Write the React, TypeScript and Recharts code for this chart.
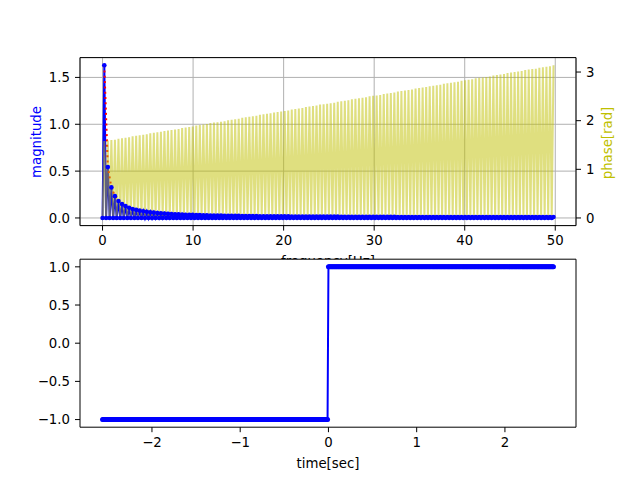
import {
  ComposedChart,
  Line,
  XAxis,
  YAxis,
  CartesianGrid,
} from 'recharts'

// spectrum: 256 bins, 100/512 Hz apart
const binWidthHz = 0.1953125
const freqTicks = [0, 10, 20, 30, 40, 50]
const magTicks = [0, 0.5, 1, 1.5]
const phaseTicks = [0, 1, 2, 3]

const magnitude = [
  0, 1.630, 0, 0.543, 0, 0.326, 0, 0.233, 0, 0.181, 0, 0.148, 0, 0.126, 0, 0.109,
  0, 0.096, 0, 0.086, 0, 0.078, 0, 0.071, 0, 0.065, 0, 0.061, 0, 0.057, 0, 0.053,
  0, 0.050, 0, 0.047, 0, 0.044, 0, 0.042, 0, 0.040, 0, 0.038, 0, 0.037, 0, 0.035,
  0, 0.034, 0, 0.033, 0, 0.031, 0, 0.030, 0, 0.029, 0, 0.028, 0, 0.027, 0, 0.027,
  0, 0.026, 0, 0.025, 0, 0.024, 0, 0.024, 0, 0.023, 0, 0.023, 0, 0.022, 0, 0.021,
  0, 0.021, 0, 0.021, 0, 0.020, 0, 0.020, 0, 0.019, 0, 0.019, 0, 0.018, 0, 0.018,
  0, 0.018, 0, 0.017, 0, 0.017, 0, 0.017, 0, 0.017, 0, 0.016, 0, 0.016, 0, 0.016,
  0, 0.016, 0, 0.015, 0, 0.015, 0, 0.015, 0, 0.015, 0, 0.015, 0, 0.014, 0, 0.014,
  0, 0.014, 0, 0.014, 0, 0.014, 0, 0.013, 0, 0.013, 0, 0.013, 0, 0.013, 0, 0.013,
  0, 0.013, 0, 0.013, 0, 0.012, 0, 0.012, 0, 0.012, 0, 0.012, 0, 0.012, 0, 0.012,
  0, 0.012, 0, 0.012, 0, 0.012, 0, 0.011, 0, 0.011, 0, 0.011, 0, 0.011, 0, 0.011,
  0, 0.011, 0, 0.011, 0, 0.011, 0, 0.011, 0, 0.011, 0, 0.011, 0, 0.011, 0, 0.011,
  0, 0.011, 0, 0.011, 0, 0.011, 0, 0.011, 0, 0.011, 0, 0.011, 0, 0.011, 0, 0.010,
  0, 0.010, 0, 0.010, 0, 0.010, 0, 0.010, 0, 0.010, 0, 0.010, 0, 0.010, 0, 0.010,
  0, 0.010, 0, 0.010, 0, 0.010, 0, 0.010, 0, 0.010, 0, 0.010, 0, 0.010, 0, 0.010,
  0, 0.010, 0, 0.010, 0, 0.010, 0, 0.010, 0, 0.010, 0, 0.010, 0, 0.010, 0, 0.010,
]

const phase = [
  0, 1.58, 0, 1.59, 0, 1.60, 0, 1.61, 0, 1.63, 0, 1.64, 0, 1.65, 0, 1.66,
  0, 1.68, 0, 1.69, 0, 1.70, 0, 1.71, 0, 1.72, 0, 1.74, 0, 1.75, 0, 1.76,
  0, 1.77, 0, 1.79, 0, 1.80, 0, 1.81, 0, 1.82, 0, 1.83, 0, 1.85, 0, 1.86,
  0, 1.87, 0, 1.88, 0, 1.90, 0, 1.91, 0, 1.92, 0, 1.93, 0, 1.95, 0, 1.96,
  0, 1.97, 0, 1.98, 0, 1.99, 0, 2.01, 0, 2.02, 0, 2.03, 0, 2.04, 0, 2.06,
  0, 2.07, 0, 2.08, 0, 2.09, 0, 2.10, 0, 2.12, 0, 2.13, 0, 2.14, 0, 2.15,
  0, 2.17, 0, 2.18, 0, 2.19, 0, 2.20, 0, 2.21, 0, 2.23, 0, 2.24, 0, 2.25,
  0, 2.26, 0, 2.28, 0, 2.29, 0, 2.30, 0, 2.31, 0, 2.33, 0, 2.34, 0, 2.35,
  0, 2.36, 0, 2.37, 0, 2.39, 0, 2.40, 0, 2.41, 0, 2.42, 0, 2.44, 0, 2.45,
  0, 2.46, 0, 2.47, 0, 2.48, 0, 2.50, 0, 2.51, 0, 2.52, 0, 2.53, 0, 2.55,
  0, 2.56, 0, 2.57, 0, 2.58, 0, 2.60, 0, 2.61, 0, 2.62, 0, 2.63, 0, 2.64,
  0, 2.66, 0, 2.67, 0, 2.68, 0, 2.69, 0, 2.71, 0, 2.72, 0, 2.73, 0, 2.74,
  0, 2.76, 0, 2.77, 0, 2.78, 0, 2.79, 0, 2.80, 0, 2.82, 0, 2.83, 0, 2.84,
  0, 2.85, 0, 2.87, 0, 2.88, 0, 2.89, 0, 2.90, 0, 2.91, 0, 2.93, 0, 2.94,
  0, 2.95, 0, 2.96, 0, 2.98, 0, 2.99, 0, 3.00, 0, 3.01, 0, 3.02, 0, 3.04,
  0, 3.05, 0, 3.06, 0, 3.07, 0, 3.09, 0, 3.10, 0, 3.11, 0, 3.12, 0, 3.14,
]

// time signal: 512 samples, 0.01 s apart, starting at -2.56 s
const timeStart = -2.56
const sampleStep = 0.01
const timeTicks = [-2, -1, 0, 1, 2]
const signalTicks = [-1, -0.5, 0, 0.5, 1]

const signal = [
  -1, -1, -1, -1, -1, -1, -1, -1, -1, -1, -1, -1, -1, -1, -1, -1, -1, -1, -1, -1, -1, -1, -1, -1, -1, -1, -1, -1, -1, -1, -1, -1,
  -1, -1, -1, -1, -1, -1, -1, -1, -1, -1, -1, -1, -1, -1, -1, -1, -1, -1, -1, -1, -1, -1, -1, -1, -1, -1, -1, -1, -1, -1, -1, -1,
  -1, -1, -1, -1, -1, -1, -1, -1, -1, -1, -1, -1, -1, -1, -1, -1, -1, -1, -1, -1, -1, -1, -1, -1, -1, -1, -1, -1, -1, -1, -1, -1,
  -1, -1, -1, -1, -1, -1, -1, -1, -1, -1, -1, -1, -1, -1, -1, -1, -1, -1, -1, -1, -1, -1, -1, -1, -1, -1, -1, -1, -1, -1, -1, -1,
  -1, -1, -1, -1, -1, -1, -1, -1, -1, -1, -1, -1, -1, -1, -1, -1, -1, -1, -1, -1, -1, -1, -1, -1, -1, -1, -1, -1, -1, -1, -1, -1,
  -1, -1, -1, -1, -1, -1, -1, -1, -1, -1, -1, -1, -1, -1, -1, -1, -1, -1, -1, -1, -1, -1, -1, -1, -1, -1, -1, -1, -1, -1, -1, -1,
  -1, -1, -1, -1, -1, -1, -1, -1, -1, -1, -1, -1, -1, -1, -1, -1, -1, -1, -1, -1, -1, -1, -1, -1, -1, -1, -1, -1, -1, -1, -1, -1,
  -1, -1, -1, -1, -1, -1, -1, -1, -1, -1, -1, -1, -1, -1, -1, -1, -1, -1, -1, -1, -1, -1, -1, -1, -1, -1, -1, -1, -1, -1, -1, -1,
  1, 1, 1, 1, 1, 1, 1, 1, 1, 1, 1, 1, 1, 1, 1, 1, 1, 1, 1, 1, 1, 1, 1, 1, 1, 1, 1, 1, 1, 1, 1, 1,
  1, 1, 1, 1, 1, 1, 1, 1, 1, 1, 1, 1, 1, 1, 1, 1, 1, 1, 1, 1, 1, 1, 1, 1, 1, 1, 1, 1, 1, 1, 1, 1,
  1, 1, 1, 1, 1, 1, 1, 1, 1, 1, 1, 1, 1, 1, 1, 1, 1, 1, 1, 1, 1, 1, 1, 1, 1, 1, 1, 1, 1, 1, 1, 1,
  1, 1, 1, 1, 1, 1, 1, 1, 1, 1, 1, 1, 1, 1, 1, 1, 1, 1, 1, 1, 1, 1, 1, 1, 1, 1, 1, 1, 1, 1, 1, 1,
  1, 1, 1, 1, 1, 1, 1, 1, 1, 1, 1, 1, 1, 1, 1, 1, 1, 1, 1, 1, 1, 1, 1, 1, 1, 1, 1, 1, 1, 1, 1, 1,
  1, 1, 1, 1, 1, 1, 1, 1, 1, 1, 1, 1, 1, 1, 1, 1, 1, 1, 1, 1, 1, 1, 1, 1, 1, 1, 1, 1, 1, 1, 1, 1,
  1, 1, 1, 1, 1, 1, 1, 1, 1, 1, 1, 1, 1, 1, 1, 1, 1, 1, 1, 1, 1, 1, 1, 1, 1, 1, 1, 1, 1, 1, 1, 1,
  1, 1, 1, 1, 1, 1, 1, 1, 1, 1, 1, 1, 1, 1, 1, 1, 1, 1, 1, 1, 1, 1, 1, 1, 1, 1, 1, 1, 1, 1, 1, 1,
]

const spectrumRows = magnitude.map((m, i) => ({
  f: i * binWidthHz,
  mag: m,
  env: m > 0 ? m : null,
  phase: phase[i],
}))

const signalRows = signal.map((v, i) => ({
  t: Number((timeStart + i * sampleStep).toFixed(2)),
  v,
}))

const FONT = '"DejaVu Sans", sans-serif'
const tickStyle = { fill: '#000', fontSize: 13.3, fontFamily: FONT }
const axisLineStyle = { stroke: '#000', strokeWidth: 1 }
const minus = (s: string) => s.replace('-', '\u2212')

// recharts passes its own x/y to label content, so the anchor uses other names
function AxisTitle({ tx, ty, text, color = '#000', vertical = false }: {
  tx: number
  ty: number
  text: string
  color?: string
  vertical?: boolean
}) {
  return (
    <text
      x={tx}
      y={ty}
      fill={color}
      fontSize={13.3}
      fontFamily={FONT}
      textAnchor="middle"
      dominantBaseline={vertical ? 'central' : 'auto'}
      transform={vertical ? `rotate(-90 ${tx} ${ty})` : undefined}
    >
      {text}
    </text>
  )
}

export default function App() {
  return (
    <div style={{ position: 'absolute', left: 0, top: 0, width: 640, height: 480, background: '#fff' }}>
      <div style={{ position: 'absolute', left: 0, top: 0 }}>
        <ComposedChart
          width={640}
          height={270}
          data={spectrumRows}
          margin={{ top: 56.6, right: 0, bottom: 0, left: 0 }}
        >
          <CartesianGrid stroke="#b0b0b0" strokeWidth={1} />
          <XAxis
            dataKey="f"
            type="number"
            domain={[-2.49, 52.29]}
            allowDataOverflow
            ticks={freqTicks}
            interval={0}
            height={44.4}
            tickSize={5}
            tickMargin={5}
            tick={tickStyle}
            tickLine={axisLineStyle}
            axisLine={axisLineStyle}
            label={<AxisTitle tx={328} ty={266} text="frequency[Hz]" />}
          />
          {/* top spine */}
          <XAxis
            xAxisId="top"
            orientation="top"
            type="number"
            domain={[-2.49, 52.29]}
            height={1}
            tick={false}
            tickLine={false}
            axisLine={axisLineStyle}
          />
          <YAxis
            type="number"
            domain={[-0.0815, 1.7115]}
            allowDataOverflow
            ticks={magTicks}
            interval={0}
            width={80}
            tickSize={5}
            tickMargin={5}
            tick={tickStyle}
            tickLine={axisLineStyle}
            axisLine={axisLineStyle}
            tickFormatter={(v: number) => v.toFixed(1)}
            label={<AxisTitle tx={36} ty={142} text="magnitude" color="#0000ff" vertical />}
          />
          <YAxis
            yAxisId="phase"
            orientation="right"
            type="number"
            domain={[-0.157, 3.297]}
            allowDataOverflow
            ticks={phaseTicks}
            interval={0}
            width={64}
            tickSize={5}
            tickMargin={5}
            tick={tickStyle}
            tickLine={axisLineStyle}
            axisLine={axisLineStyle}
            label={<AxisTitle tx={607} ty={143} text="phase[rad]" color="#bfbf00" vertical />}
          />
          <Line
            dataKey="mag"
            type="linear"
            stroke="#0000ff"
            strokeWidth={2}
            dot={{ r: 2.3, fill: '#0000ff', stroke: '#0000ff', strokeWidth: 0 }}
            isAnimationActive={false}
          />
          <Line
            dataKey="env"
            type="linear"
            stroke="#ff0000"
            strokeWidth={2}
            strokeDasharray="2 3.3"
            connectNulls
            dot={false}
            isAnimationActive={false}
          />
          <Line
            yAxisId="phase"
            dataKey="phase"
            type="linear"
            stroke="#bfbf00"
            strokeOpacity={0.5}
            strokeWidth={2}
            dot={false}
            isAnimationActive={false}
          />
        </ComposedChart>
      </div>
      <div style={{ position: 'absolute', left: 0, top: 240 }}>
        <ComposedChart
          width={640}
          height={240}
          data={signalRows}
          margin={{ top: 18.2, right: 0, bottom: 0, left: 0 }}
        >
          <CartesianGrid horizontal={false} vertical={false} fill="#ffffff" fillOpacity={1} />
          <XAxis
            dataKey="t"
            type="number"
            domain={[-2.8155, 2.8055]}
            allowDataOverflow
            ticks={timeTicks}
            interval={0}
            height={52.8}
            tickSize={5}
            tickMargin={5}
            tick={tickStyle}
            tickLine={axisLineStyle}
            axisLine={axisLineStyle}
            tickFormatter={(v: number) => minus(String(v))}
            label={<AxisTitle tx={328} ty={228} text="time[sec]" />}
          />
          {/* top spine */}
          <XAxis
            xAxisId="top"
            orientation="top"
            type="number"
            domain={[-2.8155, 2.8055]}
            height={1}
            tick={false}
            tickLine={false}
            axisLine={axisLineStyle}
          />
          <YAxis
            type="number"
            domain={[-1.1, 1.1]}
            allowDataOverflow
            ticks={signalTicks}
            interval={0}
            width={80}
            tickSize={5}
            tickMargin={5}
            tick={tickStyle}
            tickLine={axisLineStyle}
            axisLine={axisLineStyle}
            tickFormatter={(v: number) => minus(v.toFixed(1))}
          />
          <YAxis
            yAxisId="right"
            orientation="right"
            type="number"
            domain={[-1.1, 1.1]}
            width={64}
            tick={false}
            tickLine={false}
            axisLine={axisLineStyle}
          />
          <Line
            dataKey="v"
            type="linear"
            stroke="#0000ff"
            strokeWidth={2}
            dot={{ r: 2.5, fill: '#0000ff', stroke: '#0000ff', strokeWidth: 0 }}
            isAnimationActive={false}
          />
        </ComposedChart>
      </div>
    </div>
  )
}
